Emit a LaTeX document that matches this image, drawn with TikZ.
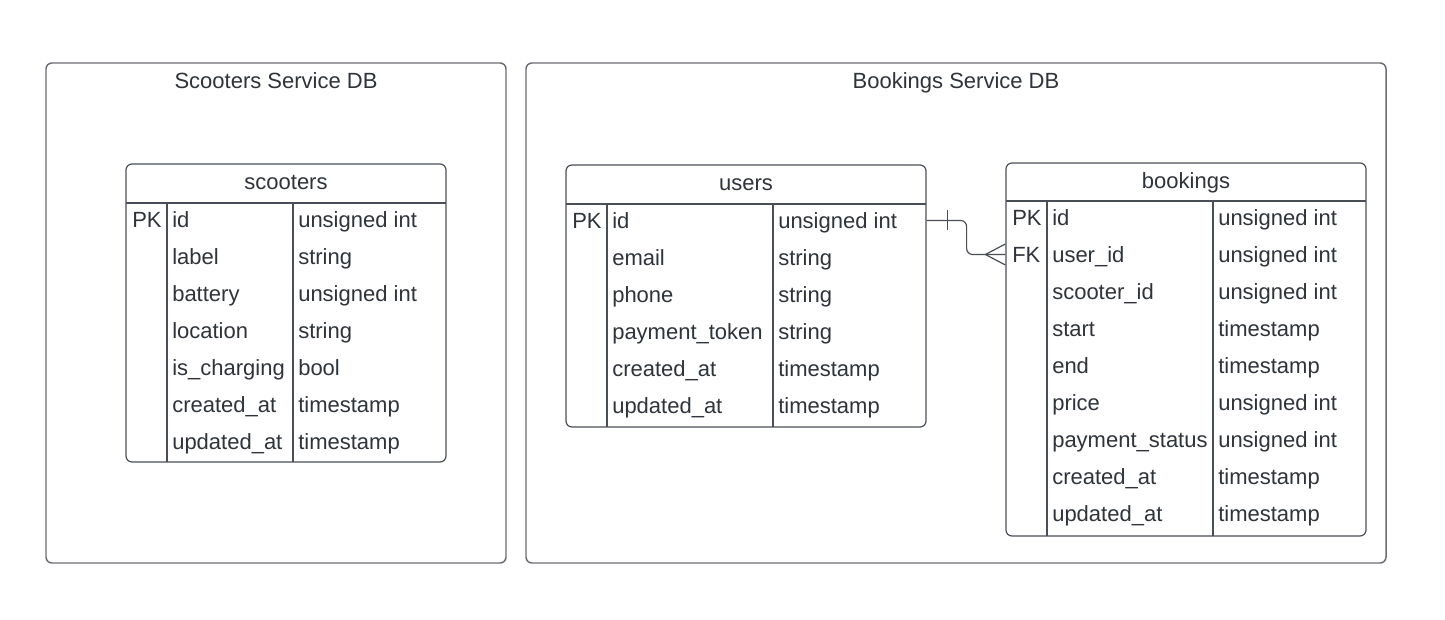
\documentclass[tikz,border=0pt]{standalone}
\usepackage{fontspec}
\setmainfont{Liberation Sans}
\definecolor{textc}{HTML}{2F343B}
\definecolor{boxc}{HTML}{6A6E74}
\definecolor{tblc}{HTML}{4A4F57}
\begin{document}
\begin{tikzpicture}[x=0.75pt,y=-0.75pt,
  every node/.style={font=\fontsize{16.5}{19}\selectfont, text=textc},
  outer/.style={draw=boxc, line width=1.1pt, rounded corners=4.5pt, inner sep=0pt},
  tbl/.style={draw=tblc, line width=0.9pt, rounded corners=4.5pt, inner sep=0pt},
  tline/.style={draw=tblc, line width=0.9pt},
  cell/.style={anchor=west, inner sep=0pt, text height=11.8pt, text depth=0pt},
  ttl/.style={inner sep=0pt, text height=11.8pt, text depth=0pt},
  conn/.style={draw=tblc, line width=0.9pt}]
\useasboundingbox[fill=white] (0,0) rectangle (1445,620);

% outer containers
\node[outer, minimum width=345pt, minimum height=375pt] (sdb) at (276,313) {};
\node[ttl] (sdb-t) at (276,81) {Scooters Service DB};
\node[outer, minimum width=645pt, minimum height=375pt] (bdb) at (956,313) {};
\node[ttl] (bdb-t) at (956,81) {Bookings Service DB};

% scooters table
\node[tbl, minimum width=240pt, minimum height=223.5pt] (scooters) at (286,313) {};
\node[ttl] (scooters-t) at (286,182) {scooters};
\draw[tline] (126,203) -- (446,203);
\draw[tline] (167,203) -- (167,462);
\draw[tline] (293,203) -- (293,462);
\foreach [count=\i] \k/\n/\t in {PK/id/unsigned int, /label/string, /battery/unsigned int, /location/string, /is\_charging/bool, /created\_at/timestamp, /updated\_at/timestamp}{
  \node[cell] (s-k\i) at (132,{203+37*(\i-0.5)-2}) {\k};
  \node[cell] (s-n\i) at (172,{203+37*(\i-0.5)-2}) {\n};
  \node[cell] (s-t\i) at (298,{203+37*(\i-0.5)-2}) {\t};
}

% users table
\node[tbl, minimum width=270pt, minimum height=196.5pt] (users) at (746,296) {};
\node[ttl] (users-t) at (746,183) {users};
\draw[tline] (566,204) -- (926,204);
\draw[tline] (607,204) -- (607,427);
\draw[tline] (773,204) -- (773,427);
\foreach [count=\i] \k/\n/\t in {PK/id/unsigned int, /email/string, /phone/string, /payment\_token/string, /created\_at/timestamp, /updated\_at/timestamp}{
  \node[cell] (u-k\i) at (572,{204+37*(\i-0.5)-2}) {\k};
  \node[cell] (u-n\i) at (612,{204+37*(\i-0.5)-2}) {\n};
  \node[cell] (u-t\i) at (778,{204+37*(\i-0.5)-2}) {\t};
}

% bookings table
\node[tbl, minimum width=270pt, minimum height=279.75pt] (bookings) at (1186,349.5) {};
\node[ttl] (bookings-t) at (1186,181) {bookings};
\draw[tline] (1006,201) -- (1366,201);
\draw[tline] (1047,201) -- (1047,536);
\draw[tline] (1213,201) -- (1213,536);
\foreach [count=\i] \k/\n/\t in {PK/id/unsigned int, FK/user\_id/unsigned int, /scooter\_id/unsigned int, /start/timestamp, /end/timestamp, /price/unsigned int, /payment\_status/unsigned int, /created\_at/timestamp, /updated\_at/timestamp}{
  \node[cell] (b-k\i) at (1012,{201+37*(\i-0.5)-2}) {\k};
  \node[cell] (b-n\i) at (1052,{201+37*(\i-0.5)-2}) {\n};
  \node[cell] (b-t\i) at (1218,{201+37*(\i-0.5)-2}) {\t};
}

% relationship users.id -> bookings.user_id
\draw[conn, rounded corners=4.5pt] (users.east |- u-n1) -- ++(40,0) |- (bookings.west |- b-n2);
\draw[conn] ([xshift=15.75pt]users.east |- u-n1) ++(0,-10) -- ++(0,20);
\draw[conn] ([xshift=-15pt]bookings.west |- b-n2) -- ([yshift=7.9pt]bookings.west |- b-n2);
\draw[conn] ([xshift=-15pt]bookings.west |- b-n2) -- ([yshift=-7.9pt]bookings.west |- b-n2);
\end{tikzpicture}
\end{document}
